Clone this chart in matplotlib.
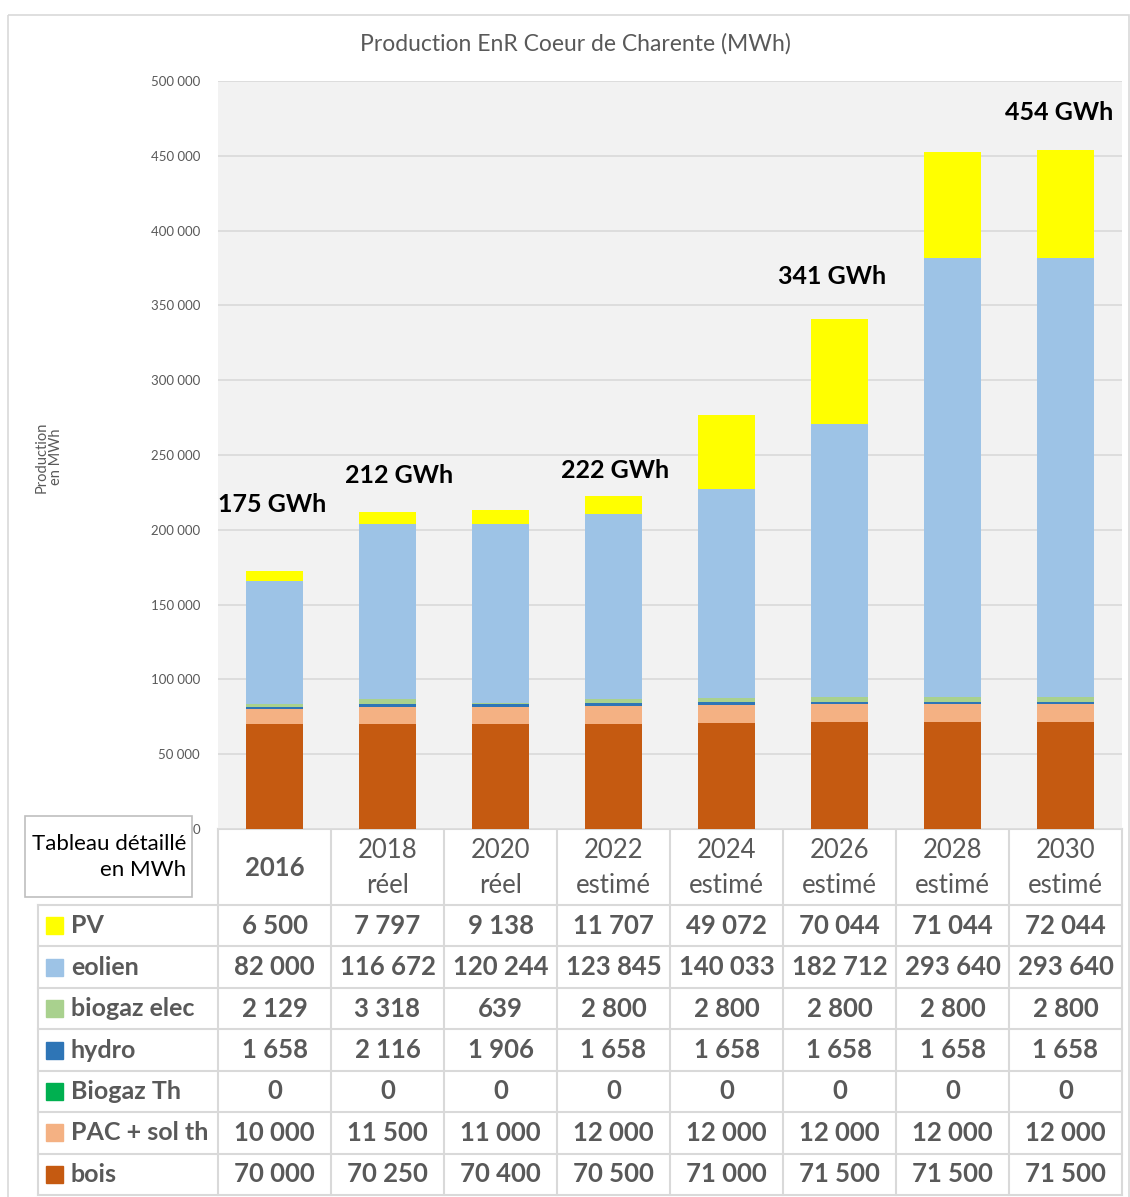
import numpy as np
import matplotlib
matplotlib.use("Agg")
import matplotlib.pyplot as plt
from matplotlib.patches import Rectangle

plt.rcParams['font.family'] = ['Lato', 'DejaVu Sans']

# Production EnR par filière (MWh)
years = ["2016", "2018\nréel", "2020\nréel", "2022\nestimé", "2024\nestimé",
         "2026\nestimé", "2028\nestimé", "2030\nestimé"]
pv = [6500, 7797, 9138, 11707, 49072, 70044, 71044, 72044]
eolien = [82000, 116672, 120244, 123845, 140033, 182712, 293640, 293640]
biogaz_elec = [2129, 3318, 639, 2800, 2800, 2800, 2800, 2800]
hydro = [1658, 2116, 1906, 1658, 1658, 1658, 1658, 1658]
biogaz_th = [0, 0, 0, 0, 0, 0, 0, 0]
pac_sol = [10000, 11500, 11000, 12000, 12000, 12000, 12000, 12000]
bois = [70000, 70250, 70400, 70500, 71000, 71500, 71500, 71500]

# ordre du tableau (haut -> bas) ; empilement inverse
series = [
    ("PV", pv, "#FFFF00"),
    ("eolien", eolien, "#9DC3E6"),
    ("biogaz elec", biogaz_elec, "#A9D18E"),
    ("hydro", hydro, "#2E75B6"),
    ("Biogaz Th", biogaz_th, "#00B050"),
    ("PAC + sol th", pac_sol, "#F4B183"),
    ("bois", bois, "#C55A11"),
]

# étiquettes de total (index de colonne, décalage x, hauteur)
gwh_labels = [(0, -0.02, 217000, "175 GWh"), (1, 0.10, 236500, "212 GWh"),
              (3, 0.01, 239500, "222 GWh"), (5, -0.07, 369000, "341 GWh"),
              (7, -0.06, 479000, "454 GWh")]

W, H = 1130, 1197
fig = plt.figure(figsize=(W / 100, H / 100), dpi=100)

# calque en pixels pour le cadre et le tableau
ov = fig.add_axes([0, 0, 1, 1])
ov.set_xlim(0, W)
ov.set_ylim(H, 0)
ov.axis("off")

grey = "#595959"
line_c = "#d9d9d9"

ov.add_patch(Rectangle((8, 15), W - 9, H, fill=False, ec=line_c, lw=1.2))
ov.text(575, 44, "Production EnR Coeur de Charente (MWh)", ha="center",
        va="center", fontsize=16.5, color=grey)
ov.text(49, 457, "Production\nen MWh", rotation=90, ha="center", va="center",
        fontsize=10.5, color=grey, linespacing=1.05)

# graphique empilé
x0, y0, x1, y1 = 218, 81, 1122, 829
ax = fig.add_axes([x0 / W, 1 - y1 / H, (x1 - x0) / W, (y1 - y0) / H])
ax.set_facecolor("#f2f2f2")
idx = np.arange(len(years))
bottom = np.zeros(len(years))
for name, vals, col in reversed(series):
    ax.bar(idx, vals, 0.5, bottom=bottom, color=col, zorder=3)
    bottom += np.array(vals)
ax.set_xlim(-0.5, len(years) - 0.5)
ax.set_ylim(0, 500000)
ax.set_yticks(np.arange(0, 500001, 50000))
ax.set_yticklabels([f"{v:,}".replace(",", " ") for v in range(0, 500001, 50000)],
                   fontsize=9.5, color=grey)
ax.tick_params(axis="y", length=0, pad=13)
ax.tick_params(axis="x", length=0, labelbottom=False)
ax.grid(axis="y", color=line_c, lw=1.2, zorder=0)
for s in ax.spines.values():
    s.set_visible(False)
for i, dx, y, txt in gwh_labels:
    ax.text(i + dx, y, txt, ha="center", va="center", fontsize=18,
            fontweight="bold", color="black", zorder=5)

# tableau détaillé
col_w = (x1 - x0) / len(years)
col_edges = [x0 + k * col_w for k in range(len(years) + 1)]
row_edges = np.linspace(905, 1195, len(series) + 1)
lw = 1.5
ov.plot([x0, x1], [y1, y1], color=line_c, lw=lw)
for xe in col_edges:
    ov.plot([xe, xe], [y1, row_edges[-1]], color=line_c, lw=lw)
for ye in row_edges:
    ov.plot([38, x1], [ye, ye], color=line_c, lw=lw)
ov.plot([38, 38], [row_edges[0], row_edges[-1]], color=line_c, lw=lw)

for k, lab in enumerate(years):
    cx = (col_edges[k] + col_edges[k + 1]) / 2
    ov.text(cx, (y1 + row_edges[0]) / 2 + 1, lab, ha="center", va="center",
            fontsize=18.5, color=grey, linespacing=1.5,
            fontweight="bold" if k == 0 else "normal")

for r, (name, vals, col) in enumerate(series):
    cy = (row_edges[r] + row_edges[r + 1]) / 2
    ov.add_patch(Rectangle((46, cy - 8.5), 17, 17, color=col))
    ov.text(71, cy, name, ha="left", va="center", fontsize=18,
            fontweight="bold", color=grey)
    for k, v in enumerate(vals):
        cx = (col_edges[k] + col_edges[k + 1]) / 2
        ov.text(cx, cy, f"{v:,}".replace(",", " "), ha="center", va="center",
                fontsize=18.5, fontweight="bold", color=grey)

ov.add_patch(Rectangle((25, 816), 167, 81, fill=False, ec="#bfbfbf", lw=1.2))
ov.text(186, 857, "Tableau détaillé\nen MWh", ha="right", va="center",
        fontsize=16, color="black", linespacing=1.4)

fig.savefig("out.png", dpi=100)
